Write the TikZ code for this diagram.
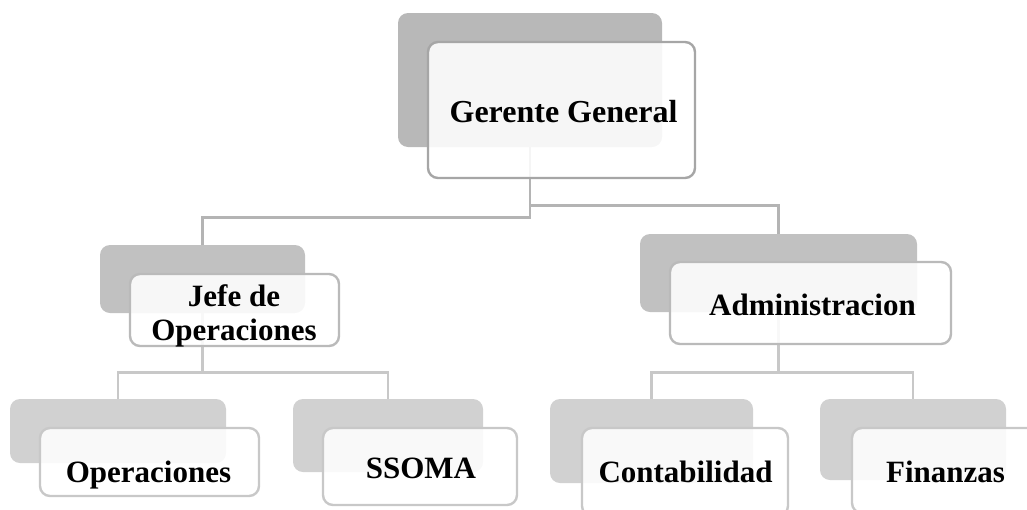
\documentclass[tikz,border=0pt]{standalone}
\usepackage{fontspec}
\setmainfont{Liberation Serif}
\usetikzlibrary{positioning}
\definecolor{backA}{RGB}{184,184,184}
\definecolor{backB}{RGB}{193,193,193}
\definecolor{backC}{RGB}{209,209,209}
\definecolor{edgeA}{RGB}{166,166,166}
\definecolor{edgeB}{RGB}{186,186,186}
\definecolor{edgeC}{RGB}{200,200,200}
\definecolor{lineA}{RGB}{180,180,180}
\definecolor{lineB}{RGB}{200,200,200}
\begin{document}
\begin{tikzpicture}[x=0.5pt,y=-0.5pt,
    backbox/.style={rectangle,rounded corners=5pt,inner sep=0pt,draw=none},
    frontbox/.style={rectangle,rounded corners=5pt,inner sep=0pt,line width=1.2pt,fill=white,fill opacity=0.88},
    lbl/.style={inner sep=0pt,font=\bfseries\fontsize{15.5}{17}\selectfont},
    conn/.style={line width=1.2pt}]
    \useasboundingbox (0,0) rectangle (1027,509);
    \clip (0,0) rectangle (1027,509);
    % gray boxes behind
    \node[backbox,fill=backA,minimum width=132pt,minimum height=67pt] (gg-bk) at (530,80) {};
    \node[backbox,fill=backB,minimum width=102.5pt,minimum height=34pt] (jefe-bk) at (202.5,279) {};
    \node[backbox,fill=backB,minimum width=138.5pt,minimum height=39pt] (adm-bk) at (778.5,273) {};
    \node[backbox,fill=backC,minimum width=108pt,minimum height=32pt] (ope-bk) at (118,431) {};
    \node[backbox,fill=backC,minimum width=95pt,minimum height=36.5pt] (ssoma-bk) at (388,435.5) {};
    \node[backbox,fill=backC,minimum width=101.5pt,minimum height=42pt] (cont-bk) at (651.5,441) {};
    \node[backbox,fill=backC,minimum width=93pt,minimum height=40.5pt] (fin-bk) at (913,439.5) {};
    % connectors
    \draw[conn,lineA] (gg-bk.south) -- ++(0,70) -| (jefe-bk.north);
    \draw[conn,lineA] (gg-bk.south) -- ++(0,58) -| (adm-bk.north);
    \draw[conn,lineB] (jefe-bk.south) -- ++(0,59) -| (ope-bk.north);
    \draw[conn,lineB] (jefe-bk.south) -- ++(0,59) -| (ssoma-bk.north);
    \draw[conn,lineB] (adm-bk.south) -- ++(0,60) -| (cont-bk.north);
    \draw[conn,lineB] (adm-bk.south) -- ++(0,60) -| (fin-bk.north);
    % white boxes in front
    \node[frontbox,draw=edgeA,minimum width=133.5pt,minimum height=68pt] (gg) at (561.5,110) {};
    \node[frontbox,draw=edgeB,minimum width=104.5pt,minimum height=36pt] (jefe) at (234.5,310) {};
    \node[frontbox,draw=edgeB,minimum width=140.5pt,minimum height=41pt] (adm) at (810.5,303) {};
    \node[frontbox,draw=edgeC,minimum width=109.5pt,minimum height=34pt] (ope) at (149.5,462) {};
    \node[frontbox,draw=edgeC,minimum width=97pt,minimum height=38.5pt] (ssoma) at (420,466.5) {};
    \node[frontbox,draw=edgeC,minimum width=103pt,minimum height=44pt] (cont) at (685,472) {};
    \node[frontbox,draw=edgeC,minimum width=94.5pt,minimum height=42.5pt] (fin) at (946.5,470.5) {};
    % texts
    \node[lbl,anchor=base,font=\bfseries\fontsize{16}{17}\selectfont] (gg-t) at (563.5,122) {Gerente General};
    \node[lbl,align=center] (jefe-t) at (234,316) {Jefe de\\Operaciones};
    \node[lbl,anchor=base] (adm-t) at (812.5,315) {Administracion};
    \node[lbl,anchor=base] (ope-t) at (148.5,482) {Operaciones};
    \node[lbl,anchor=base] (ssoma-t) at (421,478) {SSOMA};
    \node[lbl,anchor=base] (cont-t) at (685.5,482) {Contabilidad};
    \node[lbl,anchor=base] (fin-t) at (945.5,482) {Finanzas};
\end{tikzpicture}
\end{document}
